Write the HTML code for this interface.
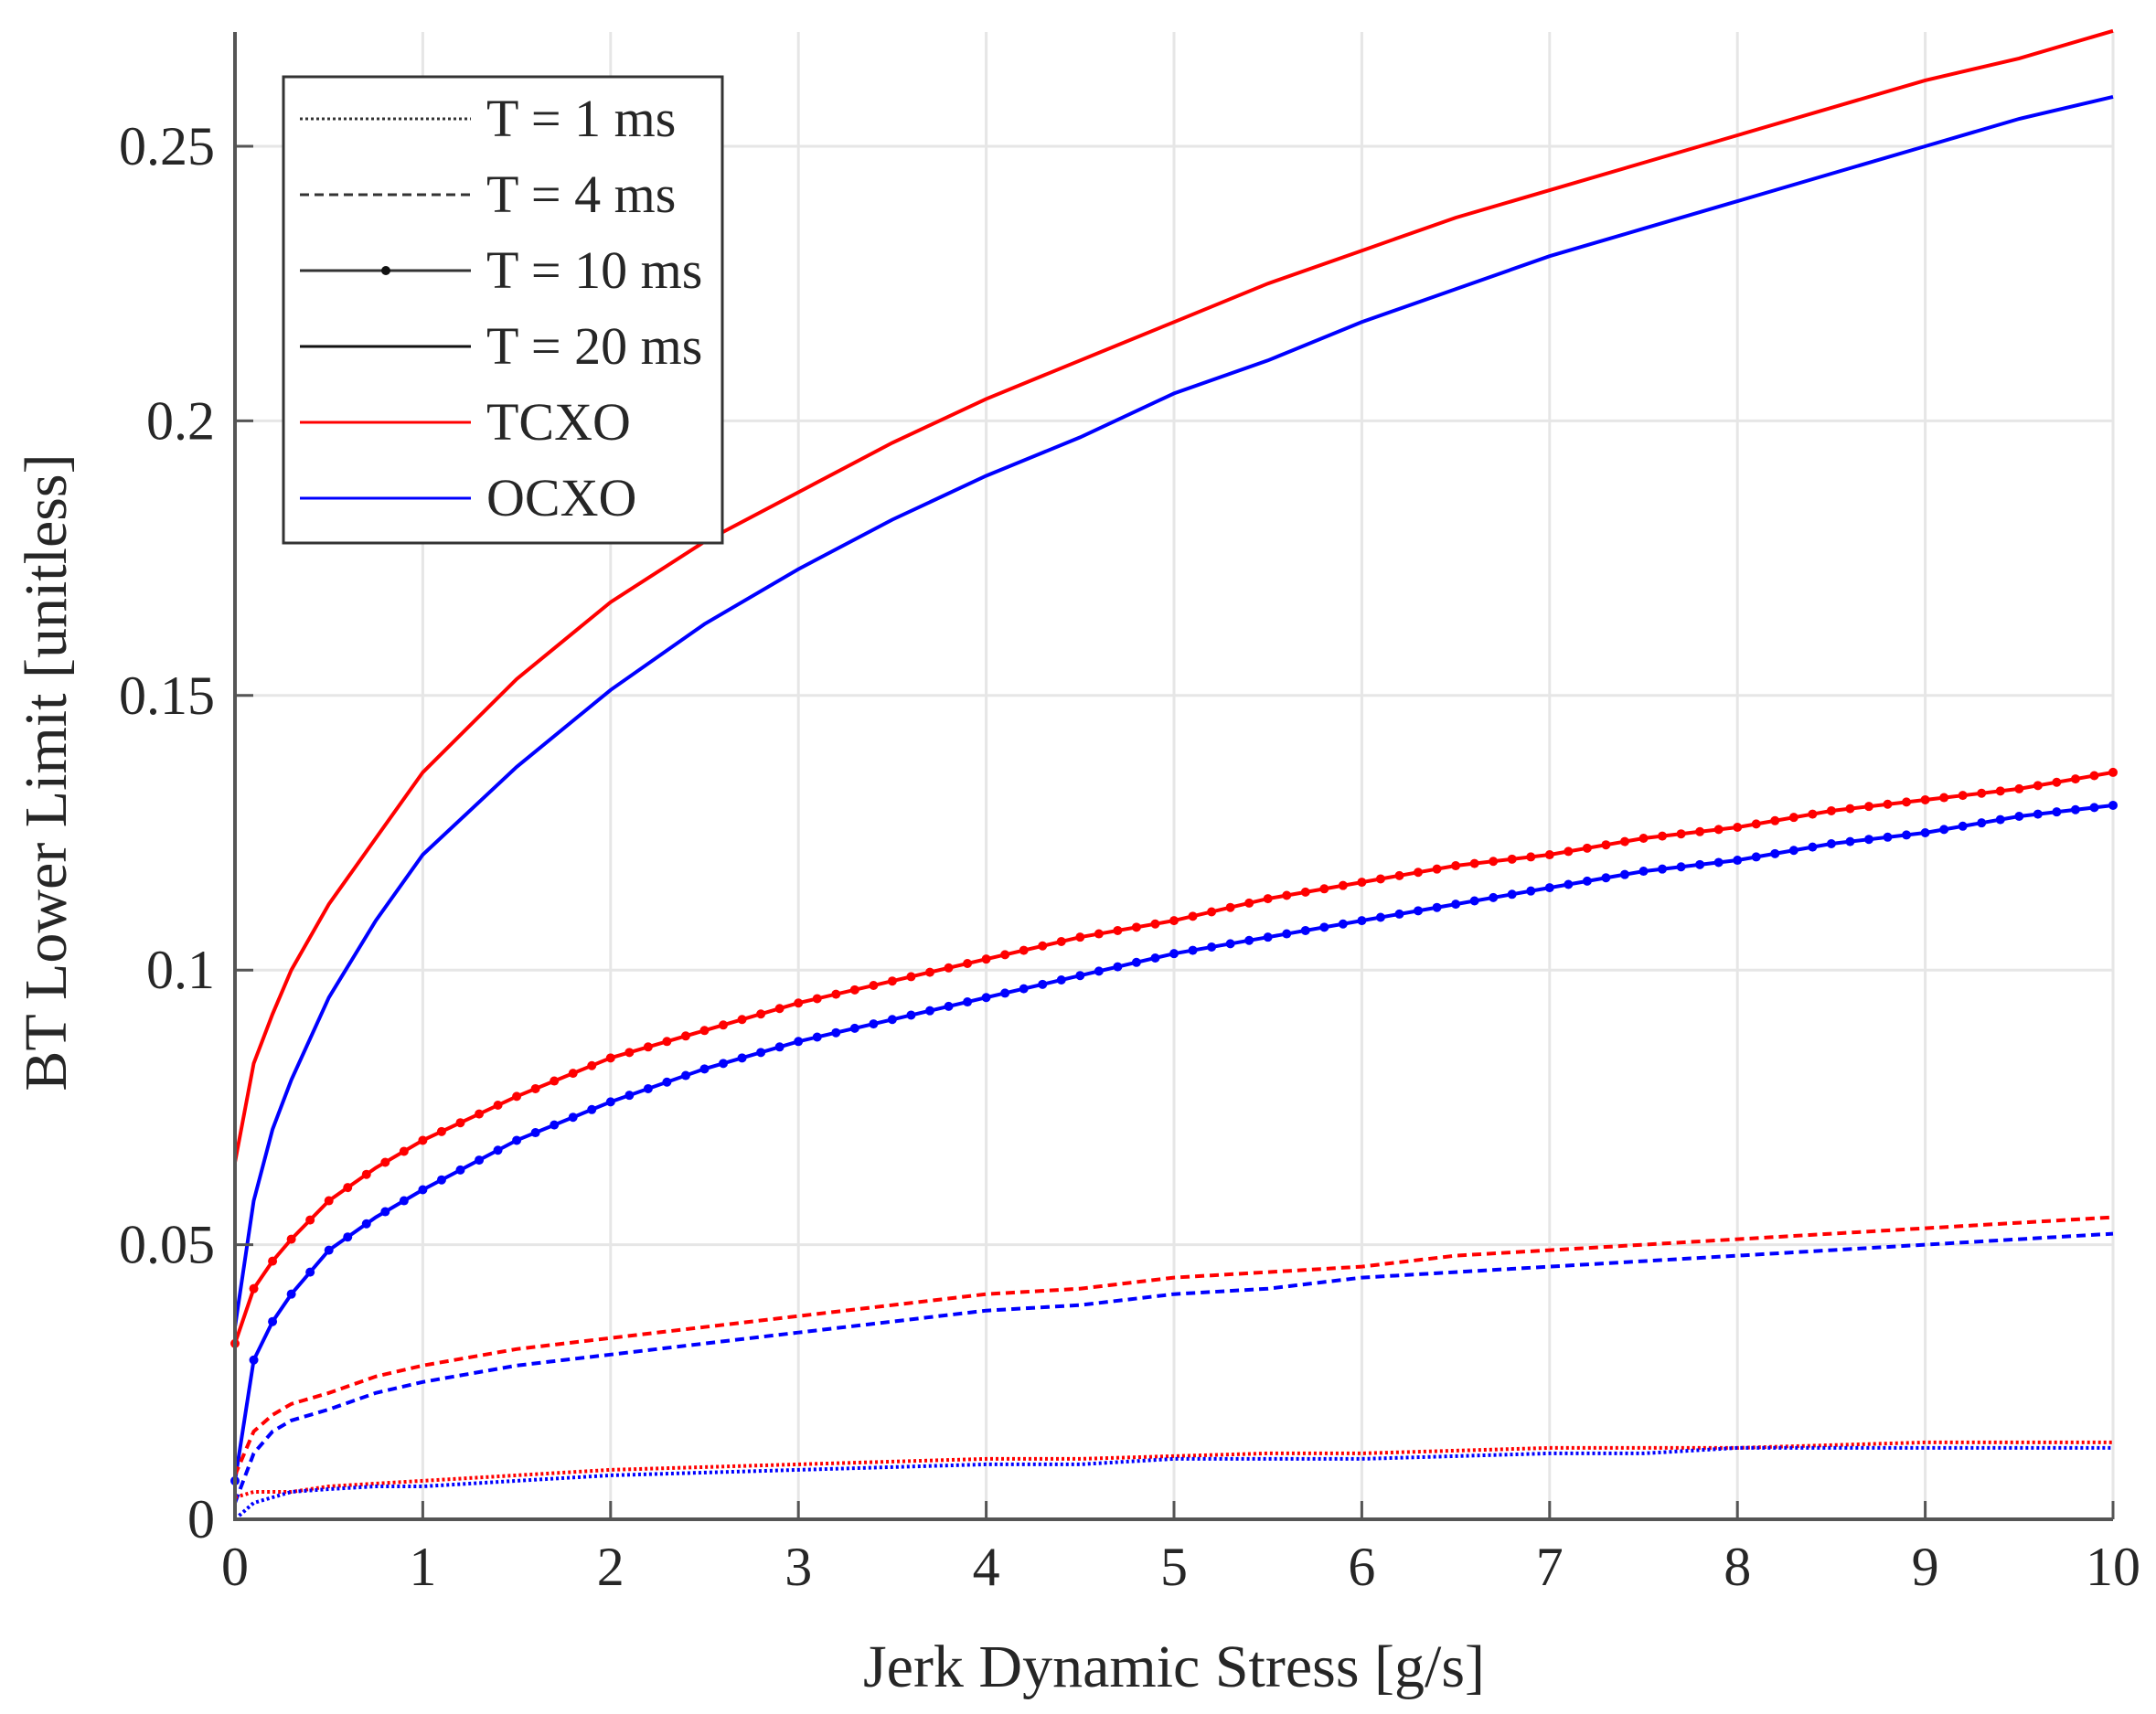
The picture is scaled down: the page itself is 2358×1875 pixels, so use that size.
<!DOCTYPE html>
<html><head><meta charset="utf-8"><style>
body{margin:0;background:#fff;}
svg{display:block;font-family:"Liberation Serif",serif;}
</style></head><body>
<svg id="chart" width="2358" height="1875" viewBox="0 0 2358 1875" xmlns="http://www.w3.org/2000/svg">
<g id="grid"></g>
<g id="series"></g>
<g id="axes"></g>
<text transform="translate(72,845) rotate(-90)" text-anchor="middle" font-size="66" fill="#262626">BT Lower Limit [unitless]</text>
<text x="1284" y="1845" text-anchor="middle" font-size="66" fill="#262626">Jerk Dynamic Stress [g/s]</text>
<g id="legend"></g>
</svg>
<script>
const xs = [0,0.1,0.2,0.3,0.5,0.75,1,1.5,2,2.5,3,3.5,4,4.5,5,5.5,6,6.5,7,7.5,8,8.5,9,9.5,10];
const tcxo20 = [0.065,0.083,0.092,0.100,0.112,0.124,0.136,0.153,0.167,0.178,0.187,0.196,0.204,0.211,0.218,0.225,0.231,0.237,0.242,0.247,0.252,0.257,0.262,0.266,0.271];
const ocxo20 = [0.035,0.058,0.071,0.080,0.095,0.109,0.121,0.137,0.151,0.163,0.173,0.182,0.190,0.197,0.205,0.211,0.218,0.224,0.230,0.235,0.240,0.245,0.250,0.255,0.259];
const tcxo10 = [0.032,0.042,0.047,0.051,0.058,0.064,0.069,0.077,0.084,0.089,0.094,0.098,0.102,0.106,0.109,0.113,0.116,0.119,0.121,0.124,0.126,0.129,0.131,0.133,0.136];
const ocxo10 = [0.007,0.029,0.036,0.041,0.049,0.055,0.060,0.069,0.076,0.082,0.087,0.091,0.095,0.099,0.103,0.106,0.109,0.112,0.115,0.118,0.120,0.123,0.125,0.128,0.130];
const tcxo4 = [0.008,0.016,0.019,0.021,0.023,0.026,0.028,0.031,0.033,0.035,0.037,0.039,0.041,0.042,0.044,0.045,0.046,0.048,0.049,0.050,0.051,0.052,0.053,0.054,0.055];
const ocxo4 = [0.003,0.012,0.016,0.018,0.020,0.023,0.025,0.028,0.030,0.032,0.034,0.036,0.038,0.039,0.041,0.042,0.044,0.045,0.046,0.047,0.048,0.049,0.050,0.051,0.052];
const tcxo1 = [0.004,0.005,0.005,0.005,0.006,0.0065,0.007,0.008,0.009,0.0095,0.010,0.0105,0.011,0.011,0.0115,0.012,0.012,0.0125,0.013,0.013,0.013,0.0135,0.014,0.014,0.014];
const ocxo1 = [0.000,0.003,0.004,0.005,0.0055,0.006,0.006,0.007,0.008,0.0085,0.009,0.0095,0.010,0.010,0.011,0.011,0.011,0.0115,0.012,0.012,0.013,0.013,0.013,0.013,0.013];
const xTicks = [0,1,2,3,4,5,6,7,8,9,10];
const yTicks = [0,0.05,0.1,0.15,0.2,0.25];
const yTickLabels = ["0","0.05","0.1","0.15","0.2","0.25"];

const X0=257, X1=2311, Y0=1662, YTOP=35;
const sx = v => X0 + v/10*(X1-X0);
const sy = v => Y0 - v/0.25*(Y0-160);
const NS="http://www.w3.org/2000/svg";
function mk(tag, parent, attrs){const e=document.createElementNS(NS,tag);for(const k in attrs)e.setAttribute(k,attrs[k]);parent.appendChild(e);return e;}
const grid=document.getElementById('grid'), axes=document.getElementById('axes'), series=document.getElementById('series'), legend=document.getElementById('legend');

xTicks.forEach(t=>{
  const g=mk('line',grid,{x1:sx(t),x2:sx(t),y1:YTOP,y2:Y0,stroke:'#e6e6e6','stroke-width':3});
  
  
  const tk=mk('line',axes,{x1:sx(t),x2:sx(t),y1:Y0,y2:Y0-20,stroke:'#555','stroke-width':3});
  
  
  const l=mk('text',axes,{x:sx(t),y:Y0+72,'text-anchor':'middle','font-size':60,fill:'#262626'});
  l.textContent=t;
  
  
});
yTicks.forEach((t,i)=>{
  const g=mk('line',grid,{x1:X0,x2:X1,y1:sy(t),y2:sy(t),stroke:'#e6e6e6','stroke-width':3});
  
  
  const tk=mk('line',axes,{x1:X0,x2:X0+20,y1:sy(t),y2:sy(t),stroke:'#555','stroke-width':3});
  
  
  const l=mk('text',axes,{x:X0-22,y:sy(t)+20,'text-anchor':'end','font-size':60,fill:'#262626'});
  l.textContent=yTickLabels[i];
  
  
});
const ax=mk('path',axes,{d:`M${X0},${YTOP} V${Y0} H${X1}`,fill:'none',stroke:'#555','stroke-width':4});



function interp(arr,x){for(let i=0;i<xs.length-1;i++){if(x<=xs[i+1]+1e-9){const f=(x-xs[i])/(xs[i+1]-xs[i]);return arr[i]+f*(arr[i+1]-arr[i]);}}return arr[arr.length-1];}
const defs=[
 [tcxo20,'red','',false,'tcxo-20ms-line'],[ocxo20,'blue','',false,'ocxo-20ms-line'],
 [tcxo10,'red','',true,'tcxo-10ms-line'],[ocxo10,'blue','',true,'ocxo-10ms-line'],
 [tcxo4,'red','10,6',false,'tcxo-4ms-line'],[ocxo4,'blue','10,6',false,'ocxo-4ms-line'],
 [tcxo1,'red','3,3',false,'tcxo-1ms-line'],[ocxo1,'blue','3,3',false,'ocxo-1ms-line']];
defs.forEach(([arr,col,dash,mark,name])=>{
  const d=arr.map((v,i)=>(i?'L':'M')+sx(xs[i]).toFixed(1)+','+sy(v).toFixed(1)).join(' ');
  const p=mk('path',series,{d:d,fill:'none',stroke:col,'stroke-width':4});
  if(dash)p.setAttribute('stroke-dasharray',dash);
  
  
  if(mark){for(let k=0;k<=100;k++){const x=k/10;const c=mk('circle',series,{cx:sx(x),cy:sy(interp(arr,x)),r:5,fill:col});
    
    }}
});

const lb=mk('rect',legend,{x:310,y:84,width:480,height:510,fill:'#fff',stroke:'#333','stroke-width':3});


const items=[['T = 1 ms','#333','3,3',false],['T = 4 ms','#333','10,6',false],['T = 10 ms','#333','',true],['T = 20 ms','#111','',false],['TCXO','red','',false],['OCXO','blue','',false]];
items.forEach((it,i)=>{
  const y=130+i*83;
  const ln=mk('line',legend,{x1:328,x2:515,y1:y,y2:y,stroke:it[1],'stroke-width':3});
  if(it[2])ln.setAttribute('stroke-dasharray',it[2]);
  
  
  if(it[3]){const c=mk('circle',legend,{cx:422,cy:y,r:5,fill:'#111'});
    
    }
  const t=mk('text',legend,{x:532,y:y+19,'font-size':58,fill:'#262626'});
  t.textContent=it[0];
  
  
});
</script>
</body></html>
